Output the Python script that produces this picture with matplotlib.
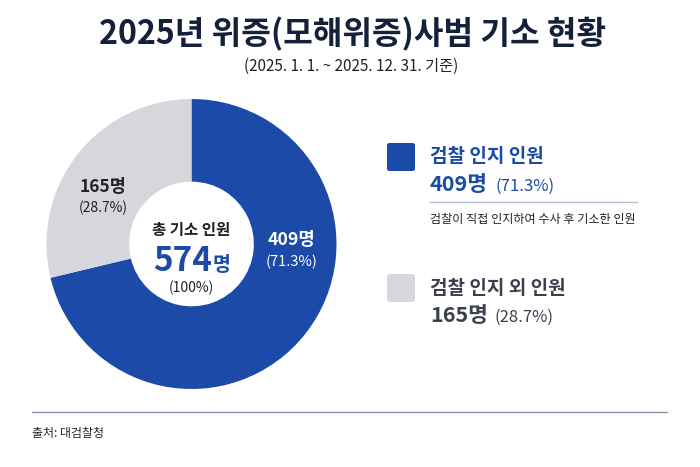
import matplotlib
matplotlib.use('Agg')
import matplotlib.pyplot as plt
from matplotlib.patches import FancyBboxPatch

plt.rcParams['font.family'] = ['Noto Sans CJK KR', 'DejaVu Sans']

title = '2025년 위증(모해위증)사범 기소 현황'
subtitle = '(2025. 1. 1. ~ 2025. 12. 31. 기준)'
categories = ['검찰 인지 인원', '검찰 인지 외 인원']
counts = [409, 165]
description = '검찰이 직접 인지하여 수사 후 기소한 인원'
center_label = '총 기소 인원'
source = '출처: 대검찰청'

blue = '#1B4AA8'
gray = '#D6D7DC'
navy = '#15203A'
dark = '#3A404C'

total = sum(counts)
pcts = [c / total * 100 for c in counts]

W, H = 700, 467
fig = plt.figure(figsize=(7, 4.67), dpi=100)
fig.patch.set_facecolor('white')


def px(x, y):
    return x / W, 1 - y / H


def put(x, y, s, **kw):
    return fig.text(*px(x, y), s, **kw)


renderer = fig.canvas.get_renderer()


def after(t, gap=6):
    bb = t.get_window_extent(renderer=renderer)
    return bb.x1 + gap


# donut
cx, cy, r = 191.5, 244, 145
ax = fig.add_axes([(cx - r) / W, (H - cy - r) / H, 2 * r / W, 2 * r / H])
ax.pie(counts, colors=[blue, gray], startangle=90, counterclock=False,
       radius=1, wedgeprops=dict(width=0.57, edgecolor='none'))
ax.set_xlim(-1, 1)
ax.set_ylim(-1, 1)
ax.set_aspect('equal')
ax.axis('off')

# title
put(353, 34, title, ha='center', va='center', fontsize=23.2, fontweight='bold', color=navy)
put(351, 66, subtitle, ha='center', va='center', fontsize=11, color='#222')

# labels on the ring
put(291, 240, f'{counts[0]}명', ha='center', va='center', fontsize=12.8, fontweight='bold', color='white')
put(292, 262, f'({pcts[0]:.1f}%)', ha='center', va='center', fontsize=10.5, color='white')
put(103, 187, f'{counts[1]}명', ha='center', va='center', fontsize=12.5, fontweight='bold', color='#222')
put(103, 208, f'({pcts[1]:.1f}%)', ha='center', va='center', fontsize=10, color='#222')

# centre
put(191.5, 230, center_label, ha='center', va='center', fontsize=11.2, fontweight='bold', color='#222')
put(212, 271, f'{total}', ha='right', va='baseline', fontsize=24, fontweight='bold', color=blue)
put(213, 271, '명', ha='left', va='baseline', fontsize=14, fontweight='bold', color=blue)
put(191.5, 288, '(100%)', ha='center', va='center', fontsize=10, color='#222')

# legend
for i, (cat, col, tcol, ytop) in enumerate([(categories[0], blue, blue, 143),
                                             (categories[1], gray, dark, 274)]):
    box = FancyBboxPatch(px(387, ytop + 28), 28 / W, 28 / H,
                         boxstyle='round,pad=0,rounding_size=0.004',
                         transform=fig.transFigure, facecolor=col, edgecolor='none')
    fig.add_artist(box)
    put(430, ytop + 14, cat, ha='left', va='center', fontsize=13.7, fontweight='bold', color=tcol)
    t = put(430, ytop + 48, f'{counts[i]}명', ha='left', va='baseline',
            fontsize=15.5, fontweight='bold', color=tcol)
    fig.canvas.draw()
    x2 = after(t, 7) / fig.dpi / fig.get_figwidth() * W
    put(x2, ytop + 48, f'({pcts[i]:.1f}%)', ha='left', va='baseline', fontsize=12, color=tcol)

fig.add_artist(plt.Line2D([430 / W, 637 / W], [1 - 202 / H] * 2, transform=fig.transFigure,
                          color='#B8C0D4', lw=1))
put(430, 219, description, ha='left', va='center', fontsize=8.7, color='#222')

# footer
fig.add_artist(plt.Line2D([32 / W, 667 / W], [1 - 412 / H] * 2, transform=fig.transFigure,
                          color='#8C94A8', lw=1))
put(32, 433, source, ha='left', va='center', fontsize=8.6, color='#222')

fig.savefig('out.png', dpi=100, facecolor='white')
